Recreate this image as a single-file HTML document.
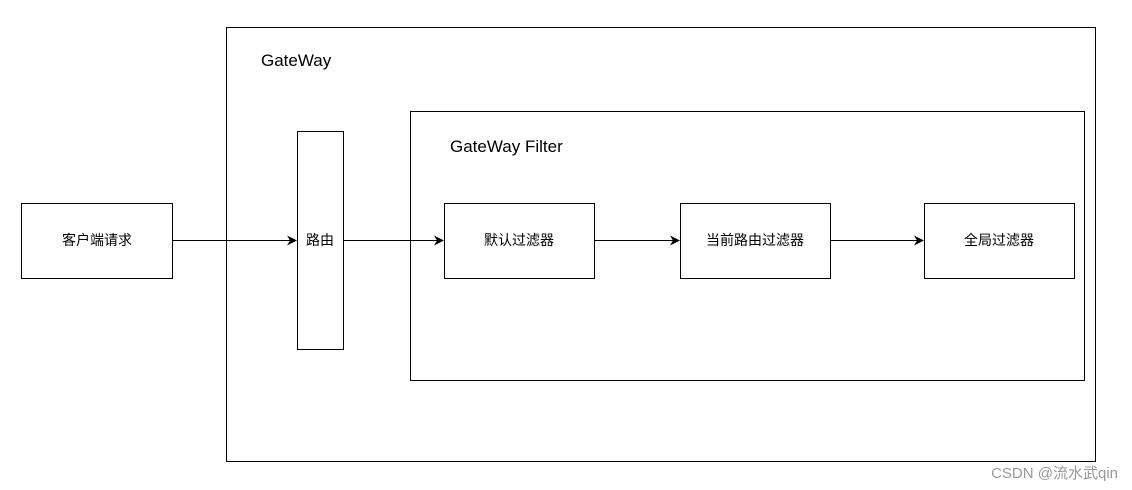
<!DOCTYPE html>
<html><head><meta charset="utf-8"><style>
body{margin:0;width:1132px;height:490px;background:#fff;overflow:hidden;font-family:"Liberation Sans","Noto Sans CJK SC",sans-serif}
</style></head><body>
<svg width="1132" height="490" viewBox="0 0 1132 490" xmlns="http://www.w3.org/2000/svg" style="position:absolute;left:0;top:0">
<defs><marker id="a" markerWidth="10" markerHeight="10" refX="9" refY="5" orient="auto" markerUnits="userSpaceOnUse"><path d="M0,0 L10,5 L0,10 L3,5 Z" fill="#000"/></marker></defs>
<g fill="none" stroke="#000" stroke-width="1">
<rect x="226.5" y="27.5" width="869" height="434"/>
<rect x="410.5" y="111.5" width="674" height="269"/>
<rect x="21.5" y="203.5" width="151" height="75"/>
<rect x="297.5" y="131.5" width="46" height="218"/>
<rect x="444.5" y="203.5" width="150" height="75"/>
<rect x="680.5" y="203.5" width="150" height="75"/>
<rect x="924.5" y="203.5" width="150" height="75"/>
<line x1="172" y1="240.5" x2="296" y2="240.5" marker-end="url(#a)"/>
<line x1="343" y1="240.5" x2="443" y2="240.5" marker-end="url(#a)"/>
<line x1="594" y1="240.5" x2="679" y2="240.5" marker-end="url(#a)"/>
<line x1="830" y1="240.5" x2="923" y2="240.5" marker-end="url(#a)"/>
</g>
<g font-family="Liberation Sans, Noto Sans CJK SC, sans-serif" fill="#000">
<text x="261" y="66" font-size="17">GateWay</text>
<text x="450" y="152" font-size="17">GateWay Filter</text>
<g font-size="14" text-anchor="middle">
<text x="97" y="245">客户端请求</text>
<text x="320" y="245">路由</text>
<text x="519" y="245">默认过滤器</text>
<text x="755" y="245">当前路由过滤器</text>
<text x="999" y="245">全局过滤器</text>
</g>
<text x="1118" y="478" font-size="15" fill="#999" text-anchor="end">CSDN @流水武qin</text>
</g>
</svg>
</body></html>
